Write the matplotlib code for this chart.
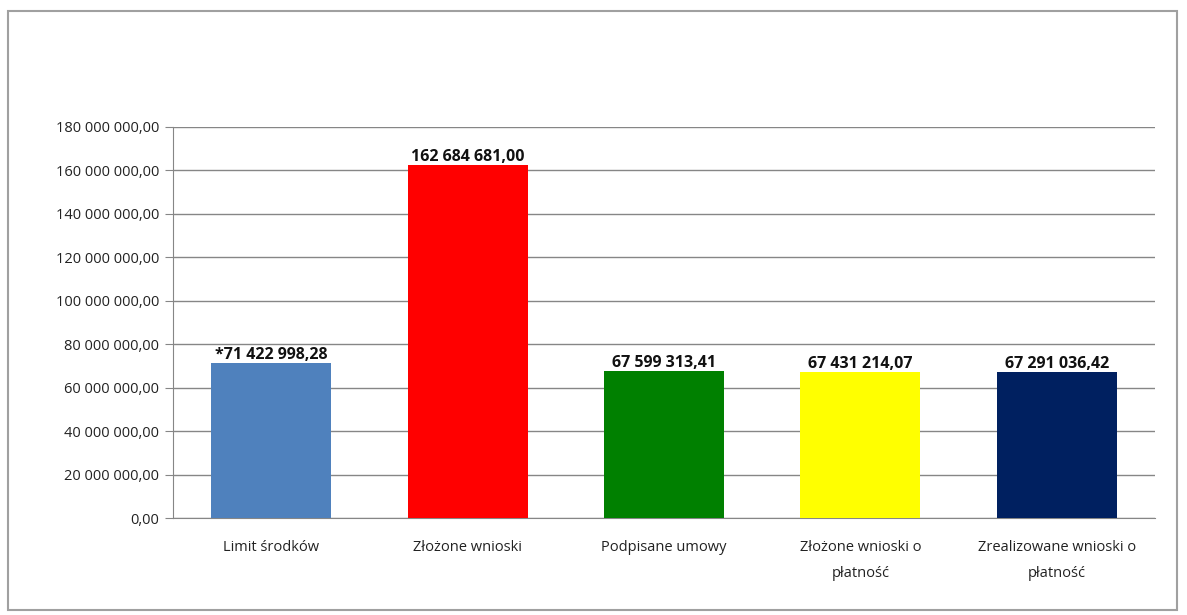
import matplotlib
matplotlib.use("Agg")
import matplotlib.pyplot as plt
from matplotlib.patches import Rectangle
from matplotlib.ticker import FuncFormatter, MultipleLocator

categories = ["Limit środków", "Złożone wnioski", "Podpisane umowy",
              "Złożone wnioski o\npłatność", "Zrealizowane wnioski o\npłatność"]
values = [71422998.28, 162684681.00, 67599313.41, 67431214.07, 67291036.42]
label_prefix = ["*", "", "", "", ""]
colors = ["#4F81BD", "#FF0000", "#008000", "#FFFF00", "#002060"]

plt.rcParams['font.family'] = ['Open Sans', 'DejaVu Sans']


def pl_fmt(v, decimals=2):
    s = f"{v:,.{decimals}f}"
    return s.replace(",", " ").replace(".", ",")


fig = plt.figure(figsize=(11.87, 6.15), dpi=100)
fig.patch.set_facecolor("white")
fig.patches.append(Rectangle((8 / 1187, 5 / 615), 1169 / 1187, 599 / 615,
                             transform=fig.transFigure, fill=False,
                             edgecolor="#A0A0A0", linewidth=1.5))

ax = fig.add_axes([173 / 1187, 97 / 615, 982 / 1187, 391 / 615])
x = list(range(len(categories)))
ax.bar(x, values, width=0.61, color=colors, zorder=3)
ax.set_xlim(-0.5, len(categories) - 0.5)
ax.set_ylim(0, 180_000_000)
ax.yaxis.set_major_locator(MultipleLocator(20_000_000))
ax.yaxis.set_major_formatter(FuncFormatter(lambda v, p: pl_fmt(v)))
ax.grid(axis="y", color="#868686", linewidth=1.0, zorder=0)
ax.set_axisbelow(True)

for s in ["top", "right"]:
    ax.spines[s].set_visible(False)
ax.spines["left"].set_color("#868686")
ax.spines["bottom"].set_color("#868686")
ax.tick_params(axis="y", length=6, color="#868686", labelsize=10.5, labelcolor="#222222", pad=4)
ax.tick_params(axis="x", length=0, labelsize=10.5, labelcolor="#222222", pad=16)
ax.set_xticks(x)
ax.set_xticklabels(categories, linespacing=2.0)

for xi, v, pre in zip(x, values, label_prefix):
    ax.text(xi, v, pre + pl_fmt(v), ha="center", va="bottom",
            fontsize=11.5, fontweight="bold", color="#111111", zorder=4)

fig.savefig("out.png", dpi=100)
